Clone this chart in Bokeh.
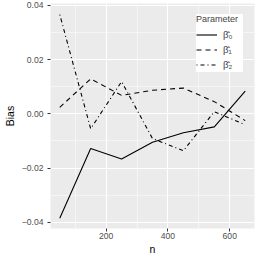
from bokeh.plotting import figure
from bokeh.models import Range1d, FixedTicker, ColumnDataSource
from bokeh.embed import file_html
from bokeh.resources import INLINE

# Data
n = [50, 150, 250, 350, 450, 550, 650]
beta0 = [-0.0385, -0.0128, -0.0167, -0.0105, -0.0070, -0.0048, 0.0084]
beta1 = [0.0024, 0.0129, 0.0068, 0.0087, 0.0095, 0.0045, -0.0025]
beta2 = [0.0366, -0.0055, 0.0119, -0.0091, -0.0136, 0.0008, -0.0040]
series_labels = ["\u03b2\u0302\u2080", "\u03b2\u0302\u2081", "\u03b2\u0302\u2082"]
legend_title = "Parameter"
x_title = "n"
y_title = "Bias"

x_ticks = [200, 400, 600]
x_minor = [100, 300, 500]
y_ticks = [-0.04, -0.02, 0.0, 0.02, 0.04]
y_tick_labels = ["\u22120.04", "\u22120.02", "0.00", "0.02", "0.04"]
y_minor = [-0.03, -0.01, 0.01, 0.03]

FONT = "Liberation Sans"

p = figure(width=257, height=257, output_backend="svg", toolbar_location=None,
           x_range=Range1d(20, 680), y_range=Range1d(-0.0423, 0.0407),
           min_border_left=44, min_border_right=3, min_border_top=3, min_border_bottom=0)

p.background_fill_color = "#EBEBEB"
p.border_fill_color = "white"
p.outline_line_color = None

p.xaxis.ticker = FixedTicker(ticks=x_ticks, minor_ticks=x_minor)
p.yaxis.ticker = FixedTicker(ticks=y_ticks, minor_ticks=y_minor)
p.yaxis.major_label_overrides = {t: l for t, l in zip(y_ticks, y_tick_labels)}

for ax in (p.xaxis, p.yaxis):
    ax.axis_line_color = None
    ax.major_tick_line_color = "#333333"
    ax.major_tick_in = 0
    ax.major_tick_out = 3
    ax.minor_tick_line_color = None
    ax.major_label_text_color = "#4D4D4D"
    ax.major_label_text_font = FONT
    ax.major_label_text_font_size = "8.6px"
    ax.axis_label_text_font = FONT
    ax.axis_label_text_font_size = "10.5px"
    ax.axis_label_text_font_style = "normal"
    ax.axis_label_text_color = "black"
p.xaxis.major_label_standoff = 0
p.xaxis.axis_label_standoff = 1
p.yaxis.major_label_standoff = 3
p.yaxis.axis_label_standoff = 3
p.xaxis.axis_label = x_title
p.yaxis.axis_label = y_title

for g in (p.xgrid, p.ygrid):
    g.grid_line_color = "white"
    g.grid_line_width = 1.0
    g.minor_grid_line_color = "white"
    g.minor_grid_line_width = 0.5

src = ColumnDataSource(dict(n=n, b0=beta0, b1=beta1, b2=beta2))
p.line("n", "b0", source=src, line_color="black", line_width=1.1, legend_label=series_labels[0])
p.line("n", "b1", source=src, line_color="black", line_width=1.1, line_dash="5 4", legend_label=series_labels[1])
p.line("n", "b2", source=src, line_color="black", line_width=1.1, line_dash="1 3 4 3", legend_label=series_labels[2])

lg = p.legend[0]
lg.title = legend_title
lg.title_text_font = FONT
lg.title_text_font_size = "9px"
lg.title_text_font_style = "normal"
lg.title_standoff = 3
lg.label_text_font = FONT
lg.label_text_font_size = "9.5px"
lg.location = "top_right"
lg.margin = 11
lg.padding = 4
lg.spacing = 0
lg.glyph_width = 21
lg.glyph_height = 15
lg.label_height = 15
lg.label_standoff = 6
lg.background_fill_color = "white"
lg.background_fill_alpha = 1
lg.border_line_color = None

open("out.html", "w").write(file_html(p, INLINE))
